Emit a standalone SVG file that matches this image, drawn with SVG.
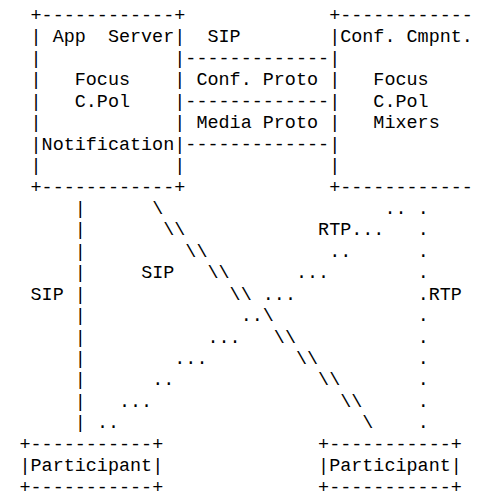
<svg xmlns="http://www.w3.org/2000/svg" width="477" height="494" viewBox="0 0 477 494" xml:space="preserve">
<style>
text { font-family: "Liberation Mono", "Courier New", monospace; font-size: 18.43px; fill: #000; white-space: pre; }
</style>
<rect x="0" y="0" width="477" height="494" fill="#fff"/>
<g id="app-server">
<text x="30.53" y="21">+------------+</text>
<text x="30.53" y="42.44">| App  Server|</text>
<text x="30.53" y="63.88">|            |</text>
<text x="30.53" y="85.32">|   Focus    |</text>
<text x="30.53" y="106.76">|   C.Pol    |</text>
<text x="30.53" y="128.2">|            |</text>
<text x="30.53" y="149.64">|Notification|</text>
<text x="30.53" y="171.08">|            |</text>
<text x="30.53" y="192.52">+------------+</text>
</g>
<g id="conf-component">
<text x="329.15" y="21">+------------</text>
<text x="329.15" y="42.44">|Conf. Cmpnt.</text>
<text x="329.15" y="63.88">|</text>
<text x="329.15" y="85.32">|   Focus</text>
<text x="329.15" y="106.76">|   C.Pol</text>
<text x="329.15" y="128.2">|   Mixers</text>
<text x="329.15" y="149.64">|</text>
<text x="329.15" y="171.08">|</text>
<text x="329.15" y="192.52">+------------</text>
</g>
<g id="participant-1">
<text x="19.47" y="449.8">+-----------+</text>
<text x="19.47" y="471.24">|Participant|</text>
<text x="19.47" y="492.68">+-----------+</text>
</g>
<g id="participant-2">
<text x="318.09" y="449.8">+-----------+</text>
<text x="318.09" y="471.24">|Participant|</text>
<text x="318.09" y="492.68">+-----------+</text>
</g>
<g id="connectors">
<text x="185.37" y="42.44">  SIP</text>
<text x="185.37" y="63.88">-------------</text>
<text x="185.37" y="85.32"> Conf. Proto</text>
<text x="185.37" y="106.76">-------------</text>
<text x="185.37" y="128.2"> Media Proto</text>
<text x="185.37" y="149.64">-------------</text>
<!-- vertical SIP line, col 5 -->
<text x="74.77" y="213.96">|</text>
<text x="74.77" y="235.4">|</text>
<text x="74.77" y="256.84">|</text>
<text x="74.77" y="278.28">|</text>
<text x="74.77" y="299.72">|</text>
<text x="74.77" y="321.16">|</text>
<text x="74.77" y="342.6">|</text>
<text x="74.77" y="364.04">|</text>
<text x="74.77" y="385.48">|</text>
<text x="74.77" y="406.92">|</text>
<text x="74.77" y="428.36">|</text>
<text x="30.53" y="299.72">SIP</text>
<!-- diagonal SIP line -->
<text x="152.19" y="213.96">\</text>
<text x="163.25" y="235.4">\\</text>
<text x="185.37" y="256.84">\\</text>
<text x="207.49" y="278.28">\\</text>
<text x="229.61" y="299.72">\\</text>
<text x="262.79" y="321.16">\</text>
<text x="273.85" y="342.6">\\</text>
<text x="295.97" y="364.04">\\</text>
<text x="318.09" y="385.48">\\</text>
<text x="340.21" y="406.92">\\</text>
<text x="362.33" y="428.36">\</text>
<text x="141.13" y="278.28">SIP</text>
<!-- diagonal RTP dotted line -->
<text x="384.45" y="213.96">..</text>
<text x="318.09" y="235.4">RTP...</text>
<text x="329.15" y="256.84">..</text>
<text x="295.97" y="278.28">...</text>
<text x="262.79" y="299.72">...</text>
<text x="240.67" y="321.16">..</text>
<text x="207.49" y="342.6">...</text>
<text x="174.31" y="364.04">...</text>
<text x="152.19" y="385.48">..</text>
<text x="119.01" y="406.92">...</text>
<text x="96.89" y="428.36">..</text>
<!-- vertical RTP dotted line, col 36 -->
<text x="417.63" y="213.96">.</text>
<text x="417.63" y="235.4">.</text>
<text x="417.63" y="256.84">.</text>
<text x="417.63" y="278.28">.</text>
<text x="417.63" y="299.72">.RTP</text>
<text x="417.63" y="321.16">.</text>
<text x="417.63" y="342.6">.</text>
<text x="417.63" y="364.04">.</text>
<text x="417.63" y="385.48">.</text>
<text x="417.63" y="406.92">.</text>
<text x="417.63" y="428.36">.</text>
</g>
</svg>
